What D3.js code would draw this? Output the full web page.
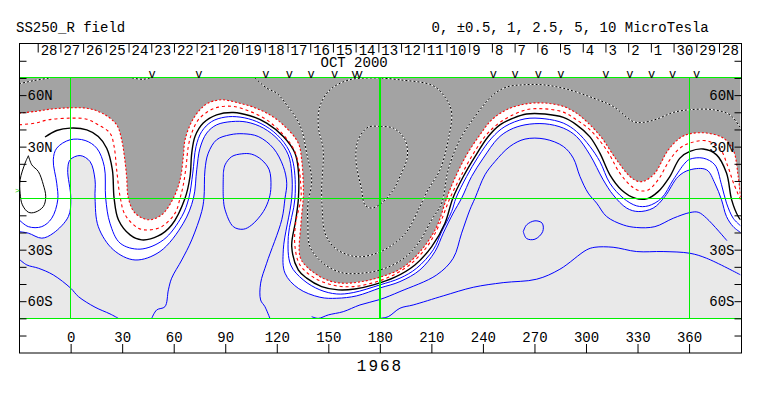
<!DOCTYPE html>
<html>
<head>
<meta charset="utf-8">
<script src="https://cdn.jsdelivr.net/npm/d3@7/dist/d3.min.js"></script>
<style>
html,body{margin:0;padding:0;background:#fff;}
svg{display:block;}
text{font-family:"Liberation Mono","DejaVu Sans Mono",monospace;font-size:14px;fill:#000;}
</style>
</head>
<body>
<script>
const title = "SS250_R field";
const levelsLabel = "0, ±0.5, 1, 2.5, 5, 10 MicroTesla";
const monthLabel = "OCT 2000";
const yearLabel = "1968";
const dayLabels = [28,27,26,25,24,23,22,21,20,19,18,17,16,15,14,13,12,11,10,9,8,7,6,5,4,3,2,1,30,29,28];
const lonTicks = [0,30,60,90,120,150,180,210,240,270,300,330,360];
const latTicks = [80,70,60,50,40,30,20,10,-10,-20,-30,-40,-50,-60,-70,-80];
const latLabels = {60:"60N",30:"30N","-30":"30S","-60":"60S"};
const gridLons = [0,180];
const thinGridLons = [360];
const gridLats = [70,0,-70];
const passLons = [47.4,74.6,113.7,127.3,140,153.7,165.5,168,246,258.7,272.2,285.4,311.6,325.6,338.2,350.4,364.4];

// contours as [longitude, latitude]
const zeroLine = [[-30,49.5],[-20.7,50.5],[-11,51.9],[-0.3,52.6],[10.3,52.2],[19,49.1],[26.8,42.7],[29.7,34],[31.3,24.2],[32.6,12.6],[33.6,0],[37.5,-8.7],[45.2,-12.6],[53,-9.7],[59.8,0],[63.7,10.7],[65.6,24.2],[66.6,34],[70.5,44.6],[75.3,51.5],[80.1,55.4],[87.9,57.3],[96.7,55.7],[106.3,53],[116,48.5],[124.8,41.7],[132.5,32.1],[134.5,22.3],[135.4,8.7],[135.4,0],[134.1,-14.6],[133.5,-34],[137.4,-39.9],[148.1,-47.2],[157.8,-49.5],[169.4,-48.6],[180.1,-46],[192.7,-40.8],[204.3,-30.1],[213.1,-16.6],[218.9,0],[223.7,11.7],[230.5,25.2],[238.3,36.9],[245.1,45.6],[253.8,51.5],[264.5,54.8],[276.1,55.4],[286.8,53.4],[294.5,49.5],[301.3,43.7],[308.7,35.7],[317.8,22.3],[325.6,12.6],[330.4,9.7],[334.3,10.1],[340.1,14.6],[347.9,28.1],[354.7,35],[360.5,37.5],[370.2,37.9],[379.9,35],[385.7,28.1],[388.6,12.6],[390,0]];
const halfLine = [[-30,42.7],[-20.7,43.7],[-13,45.6],[-0.3,46.6],[9.4,46],[16.1,42.7],[22.9,37.9],[25.3,30.1],[26.8,16.5],[28.8,0.9],[31.7,-9.7],[39.4,-17.5],[45.2,-18.5],[53,-16.6],[60.8,-8.7],[63.7,0],[65.6,7.8],[67.2,18.4],[68.5,30.1],[70.5,37.9],[74.3,45.6],[80.1,50.5],[86,53],[94.7,53.4],[104.4,50.5],[114.1,45.6],[122.9,37.9],[129.6,29.1],[132.5,20.4],[133.9,8.7],[134.1,0],[131,-14.6],[130.6,-28.2],[133.5,-38.9],[142.2,-46.6],[153.9,-50.9],[164.5,-51.5],[175.2,-49.5],[186.9,-45.3],[198.5,-37.9],[208.2,-27.2],[215,-14.6],[220.8,0],[226.6,11.7],[233.4,24.2],[241.2,35.9],[248,42.7],[255.7,47.6],[265.4,51.5],[276.1,52],[286.8,50.1],[294.5,45.6],[302.3,39.8],[312,28.1],[319.7,14.6],[326.6,6.8],[331.4,4.3],[336.2,4.8],[342,10.7],[348.8,22.3],[354.7,29.1],[360.5,32.1],[370.2,33.4],[377.8,29.1],[382.6,18.4],[385.9,8.7],[390,-1]];
const oneLine = [[-14.9,35.6],[-8.1,39.4],[-0.3,40.8],[9.4,39.8],[16.1,35.9],[21,29.1],[24.3,16.5],[25.3,0],[27.8,-12.6],[34.6,-21.4],[41.4,-24.3],[51,-22],[58.8,-15.6],[66.6,0],[69.5,12.6],[70.5,26.2],[72.4,35.9],[77.2,43.7],[85,48.5],[94.7,49.9],[104.4,48],[114.1,43.7],[123.8,35.9],[130.6,26.2],[132.5,16.5],[132.6,0],[131,-13],[128.7,-28.2],[132.5,-41.8],[137.4,-46.6],[146.1,-51.5],[155.8,-53.4],[165.5,-52.9],[176.2,-50.5],[188.8,-46],[200.4,-38.9],[210.2,-28.2],[217.9,-14.6],[222.5,0],[228.6,12.6],[235.4,24.2],[243.1,35.9],[249.9,42.7],[257.7,46.6],[265.4,49],[276.1,49],[286.8,47],[294.5,42.7],[302.3,35.7],[308.1,26.2],[313.9,13.6],[320.7,4.8],[328.5,0],[335.3,-0.4],[342,3.8],[348.8,12.6],[354.7,23.3],[360.5,27.2],[368.2,28.6],[376,25.2],[381.8,14.6],[384.8,-1],[388.6,-10.7],[390,-12.6]];
const oneLoop = [[-24.6,24.7],[-22.6,19.4],[-18.8,15.5],[-15.9,7.8],[-14.5,0.9],[-15.9,-4.9],[-20.7,-8.2],[-24.6,-8.2],[-28.1,-3.9],[-29.4,2.9],[-29.4,10.7],[-26.5,20.4],[-24.6,24.7]];
const blueLine1 = [[-30,-12.6],[-24.6,-16.6],[-16.8,-16.6],[-11,-11.7],[-7.5,-1],[-8.1,8.7],[-10.1,22.3],[-8.1,29.1],[-0.3,34],[8.4,33.6],[15.2,29.1],[19.6,18.4],[20.4,0],[22.9,-14.6],[28.8,-26.2],[40.4,-29.7],[54,-24.3],[64.7,-10.7],[68.8,0],[71.1,14.6],[73,30.1],[76.3,38.8],[82.1,44.6],[89.9,47.2],[98.6,47.2],[108.3,44.6],[118,38.8],[125.8,30.1],[129.6,20.4],[130.6,0],[126.7,-22.4],[128.1,-38.9],[135.4,-47.6],[145.1,-53.4],[154.9,-55.8],[164.5,-55],[180.1,-50.5],[191.7,-46.6],[201.4,-40.8],[211.1,-30.1],[216,-19.5],[221.8,-7.8],[224.3,0],[230.5,12.6],[237.3,24.2],[245.1,35],[252.8,41.7],[264.5,46.2],[276.1,46.2],[286.8,43.7],[294.5,38.8],[302.3,30.1],[308.1,21.3],[313.9,8.7],[321.7,0],[329.5,-4.5],[336.2,-4.5],[344,0],[350.8,10.7],[357.6,20.4],[360.5,22.7],[368.2,23.3],[375,19.4],[378.9,7.8],[381.8,-2.9],[385.7,-11.7],[390,-16.1]];
const blueLine2 = [[-30,-19.5],[-24.6,-20.4],[-16.8,-23.3],[-10.1,-20.4],[-1.3,-10.7],[0.1,0],[-1.7,16.5],[-0.3,22.3],[5.5,24.8],[11.3,21.3],[14.2,10.7],[14.2,0],[16.1,-16.6],[24.9,-30.1],[37.5,-36],[52,-31.1],[65.6,-14.6],[71.5,0],[73.4,16.5],[75.3,29.1],[79.2,37.9],[85,42.7],[93.8,44.6],[102.5,44.3],[112.2,40.8],[120.9,34],[126.7,25.2],[128.7,14.6],[128.7,0],[123.8,-30.1],[124.8,-43.7],[132.5,-52.5],[145.1,-57.7],[154.9,-58.3],[166.5,-56.9],[180.1,-52.3],[191.7,-48.6],[203.3,-41.8],[212.1,-31.1],[216.9,-20.4],[222.7,-8.7],[227.6,0],[233.4,12.6],[240.2,23.3],[248.9,35],[255.7,39.8],[264.5,42.7],[276.1,43.3],[286.8,40.8],[294.5,35.9],[302.3,25.2],[310,10.7],[315.8,1.9],[323.7,-5.8],[330.4,-7.8],[339.1,-5.8],[345.9,0.9],[353.7,12.6],[360.5,16.5],[370.2,16.5],[375,8.7],[378.9,-1],[381.8,-10.7],[385.7,-16.6],[390,-20]];
const blueLine3a = [[47.2,-70],[50.1,-65.1],[54.9,-63.2],[56.9,-53.4],[58.8,-46.6],[64.7,-36],[70.5,-24.3],[76.3,-7.8],[77.6,0],[78.2,16.5],[80.1,26.2],[85,34],[92.8,36.9],[100.5,37.5],[109.2,35.9],[118,29.1],[123.8,18.4],[125.8,8.7],[124.8,0],[122.9,-12.6],[114.1,-37.9],[110.6,-49.5],[110.6,-59.3],[113.1,-63.2],[116,-70]];
const blueLine3b = [[140.3,-69],[144.2,-70],[150,-68],[158.7,-66.1],[168.4,-62.2],[180.1,-59],[191.7,-54.4],[213.1,-44.7],[222.7,-35],[227.6,-20.4],[232.4,-6.8],[235.4,0],[241.2,13.6],[247,21.3],[255.7,30.1],[264.5,34.4],[276.1,34.4],[286.8,30.1],[292.6,23.3],[296.5,12.6],[301.3,2.9],[306.2,-2.9],[312,-10.7],[321.7,-15.6],[329.5,-17.1],[340.1,-16.6],[350.8,-11.7],[360.5,-8.4],[365.3,-8.2],[370.2,-11.7],[382,-24.7]];
const blueLoop = [[88.9,14.6],[89.9,19.4],[93.8,24.2],[99.6,25.8],[105.4,25.6],[111.2,22.3],[115.6,16.5],[116.6,6.8],[115.6,0],[112.2,-7.8],[105.4,-15.6],[100.5,-18.1],[94.7,-16.6],[89.9,-6.8],[88.9,0],[88.9,14.6]];
const blueRing = [[263.5,-19.5],[265.4,-15.6],[270.3,-13.2],[274.5,-14.6],[274.8,-19.5],[270.3,-23.9],[265.4,-23.5],[263.5,-19.5]];
const blueSouthWest = [[-30,-35.5],[-25.5,-38.9],[-18.8,-40.8],[-10.1,-44.7],[0.1,-52.5],[4.5,-57.3],[14.2,-63.5],[22.9,-67.4],[27.8,-70]];
const blueSouthEast = [[180,-70],[184.9,-69],[191.7,-64.1],[199.4,-62.2],[216.9,-56.9],[234.4,-51.9],[251.8,-49.2],[271.3,-47.2],[284.8,-41.4],[300.4,-30.1],[305.2,-28.6],[315.8,-28.6],[329.5,-31.1],[344.9,-31.1],[360.5,-32.1],[370.2,-35],[390,-44.7]];
const negLine1 = [[107.3,70],[114.1,64.1],[119.9,61.2],[125.7,54.4],[130.6,47.6],[134.5,39.8],[137.4,26.2],[140.3,10.7],[138.1,-3.9],[138.1,-14.6],[139.3,-28.2],[147,-37.9],[157.8,-43.4],[169.4,-43.7],[180.1,-41.8],[192.7,-36],[202.4,-26.2],[210.2,-12.6],[216,-2.9],[219.8,16.5],[226.6,34],[238.3,51.5],[246,60.2],[253.8,64.7],[263.5,66],[275.1,66],[288.7,63.5],[304.2,58.3],[315.8,53.4],[327.5,44.6],[333.3,44.1],[341.1,46],[350.8,49.9],[360.5,51.5],[374,51.5],[383.8,48.5],[390,40.8]];
const negLine2 = [[180,70],[162.6,69],[151,63.1],[145.1,53.4],[144.2,41.7],[147,28.1],[146.1,4.8],[146.5,-6.8],[148.1,-20.4],[153.9,-29.1],[165.5,-34],[175.2,-33],[185.8,-28.2],[195.6,-19.5],[203.3,-4.9],[208,4.8],[215,16.5],[219.8,34],[221.8,49.5],[218.9,57.3],[211.1,65.4],[191.7,68.9],[180,70]];
const negLine3 = [[180,41.7],[173.3,41.4],[167.4,34],[166.1,22.3],[169.4,4.8],[171.3,-3.9],[175.2,-5.8],[181,-2.9],[187.8,4.8],[191.7,12.6],[196,24.2],[194.6,34],[187.8,40.8],[180,41.7]];
const negCorner = [[-30,66.6],[-21.7,68.4],[-12,70]];
const negSpeck = [[35.7,70],[42.1,69.2],[46.2,70]];

const width = 763, height = 396;
const x = d3.scaleLinear().domain([-30,390]).range([19.1,740.6]);
const y = d3.scaleLinear().domain([90,-90]).range([43.6,352.7]);
const dayX = d3.scaleLinear().domain([0,dayLabels.length-1]).range([37.7,719]);

const svg = d3.select("body").append("svg").attr("width",width).attr("height",height);

svg.append("defs").append("clipPath").attr("id","plot").append("rect")
  .attr("x",x(-30)).attr("y",y(70)).attr("width",x(390)-x(-30)).attr("height",y(-70)-y(70));

const line = d3.line().x(d=>x(d[0])).y(d=>y(d[1])).curve(d3.curveCatmullRom.alpha(0.5));

const plot = svg.append("g").attr("clip-path","url(#plot)");
plot.append("path").attr("d",line(blueLine2)+`L${x(390)},${y(-70)}L${x(-30)},${y(-70)}Z`).attr("fill","#e9e9e9");
plot.append("path").attr("d",line(zeroLine)+`L${x(390)},${y(70)}L${x(-30)},${y(70)}Z`).attr("fill","#a3a3a3");

const strokes = [
  [blueLine1,"#00f",1,null],[blueLine2,"#00f",1,null],[blueLine3a,"#00f",1,null],[blueLine3b,"#00f",1,null],
  [blueLoop,"#00f",1,null],[blueRing,"#00f",1,null],[blueSouthWest,"#00f",1,null],[blueSouthEast,"#00f",1,null],
  [oneLine,"#000",1.4,null],[oneLoop,"#000",1,null],
  [zeroLine,"#f00",1.1,"2 2"],[halfLine,"#f00",1.1,"3 3"]
];
plot.selectAll("path.contour").data(strokes).join("path").attr("class","contour")
  .attr("d",d=>line(d[0])).attr("fill","none").attr("stroke",d=>d[1]).attr("stroke-width",d=>d[2]).attr("stroke-dasharray",d=>d[3]);

const negatives = [negLine1,negLine2,negLine3,negCorner,negSpeck];
plot.selectAll("path.negw").data(negatives).join("path").attr("class","negw")
  .attr("d",line).attr("fill","none").attr("stroke","#fff").attr("stroke-width",1);
plot.selectAll("path.negk").data(negatives).join("path").attr("class","negk")
  .attr("d",line).attr("fill","none").attr("stroke","#000").attr("stroke-width",1).attr("stroke-dasharray","2 2");

// green reference lines
svg.selectAll("line.glat").data(gridLats).join("line").attr("class","glat")
  .attr("x1",x(-30)).attr("x2",x(390)).attr("y1",d=>y(d)).attr("y2",d=>y(d))
  .attr("stroke","#00f000").attr("stroke-width",1).attr("shape-rendering","crispEdges");
svg.selectAll("line.glon").data(gridLons).join("line").attr("class","glon")
  .attr("x1",d=>x(d)).attr("x2",d=>x(d)).attr("y1",y(70)).attr("y2",y(-70))
  .attr("stroke","#00f000").attr("stroke-width",1.6).attr("shape-rendering","crispEdges");
svg.selectAll("line.glon2").data(thinGridLons).join("line").attr("class","glon2")
  .attr("x1",d=>x(d)).attr("x2",d=>x(d)).attr("y1",y(70)).attr("y2",y(-70))
  .attr("stroke","#00f000").attr("stroke-width",1).attr("shape-rendering","crispEdges");

// frame
svg.append("rect").attr("x",19.5).attr("y",43.5).attr("width",722).attr("height",309.5)
  .attr("fill","none").attr("stroke","#000");

const latFmt = d => latLabels[d] || "";
const styleAxis = g => { g.select(".domain").remove(); g.selectAll("line").attr("stroke","#000"); g.selectAll("text").attr("fill","#000").style("font-size","14px").style("font-family",null); g.attr("font-family",null).attr("font-size",null); };

svg.append("g").attr("transform","translate(19.5,0)")
  .call(d3.axisRight(y).tickValues(latTicks).tickFormat(latFmt).tickSize(7).tickPadding(1)).call(styleAxis);
svg.append("g").attr("transform","translate(741.5,0)")
  .call(d3.axisLeft(y).tickValues(latTicks).tickFormat(latFmt).tickSize(7).tickPadding(0)).call(styleAxis);
svg.append("g").attr("transform","translate(0,353)")
  .call(d3.axisTop(x).tickValues(lonTicks).tickFormat(d3.format("d")).tickSize(9).tickPadding(2)).call(styleAxis);
svg.append("g").attr("transform","translate(0,43.5)")
  .call(d3.axisBottom(dayX).tickValues(d3.range(dayLabels.length)).tickFormat(i=>dayLabels[i]).tickSize(9).tickPadding(2))
  .call(styleAxis)
  .call(g=>g.selectAll("text").attr("text-anchor","start").attr("x",2.5).attr("y",0).attr("dy",null).attr("transform","translate(0,11)"));

svg.selectAll("text.pass").data(passLons).join("text").attr("class","pass")
  .attr("x",d=>x(d)).attr("y",78).attr("text-anchor","middle").style("font-size","12px").text("v");

svg.append("text").attr("x",16).attr("y",32).text(title);
svg.append("text").attr("x",431.5).attr("y",32).text(levelsLabel);
svg.append("text").attr("x",320.5).attr("y",67).text(monthLabel);
svg.append("text").attr("x",380).attr("y",371).attr("text-anchor","middle").style("font-size","16px").style("letter-spacing","2px").text(yearLabel);
svg.append("text").attr("x",15).attr("y",193).style("font-size","8px").style("fill","#00d000").text(">");
</script>
</body>
</html>
